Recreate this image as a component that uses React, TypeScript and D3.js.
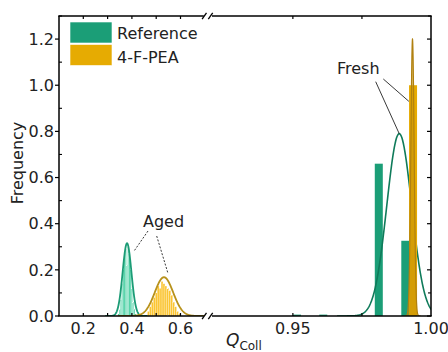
import React from "react";
import * as d3 from "d3";

// ---- data ----
const seriesNames = ["Reference", "4-F-PEA"];
const seriesColors = ["#1b9e77", "#e6ab02"];

// aged histograms (bin centers, frequencies)
const agedRefBins = [0.345, 0.35, 0.355, 0.36, 0.365, 0.37, 0.375, 0.38, 0.385, 0.39, 0.395, 0.4, 0.405, 0.41, 0.415];
const agedRefFreq = [0.01, 0.03, 0.07, 0.14, 0.2, 0.26, 0.29, 0.22, 0.3, 0.27, 0.2, 0.12, 0.06, 0.03, 0.01];
const agedRefBinWidth = 0.005;

const agedPeaBins = [0.468, 0.476, 0.484, 0.492, 0.5, 0.508, 0.516, 0.524, 0.532, 0.54, 0.548, 0.556, 0.564, 0.572, 0.58, 0.588, 0.596];
const agedPeaFreq = [0.02, 0.04, 0.06, 0.08, 0.1, 0.13, 0.12, 0.15, 0.14, 0.13, 0.12, 0.11, 0.09, 0.06, 0.04, 0.02, 0.01];
const agedPeaBinWidth = 0.008;

// fresh histograms
const freshRefBins = [0.9515, 0.961, 0.971, 0.9811, 0.9907];
const freshRefFreq = [0.006, 0.006, 0.004, 0.66, 0.326];
const freshPeaBins = [0.9935];
const freshPeaFreq = [1.0];
const freshBinWidth = 0.0029;

// gaussian fits: [center, sigma, amplitude]
const fitAgedRef = [0.38, 0.018, 0.315];
const fitAgedPea = [0.532, 0.038, 0.168];
const fitFreshRef = [0.9885, 0.0045, 0.79];
const fitFreshPea = [0.9933, 0.0006, 1.2];

// axis ticks
const yTicks = [0, 0.2, 0.4, 0.6, 0.8, 1.0, 1.2];
const yMinor = [0.1, 0.3, 0.5, 0.7, 0.9, 1.1, 1.3];
const xLeftLabels = [0.2, 0.4, 0.6];
const xLeftTicks = [0.2, 0.3, 0.4, 0.5, 0.6];
const xRightLabels = [0.95, 1.0];
const xRightTicks = [0.95, 0.975];

// annotations targets (data coords)
const freshTargets = [[0.9885, 0.79], [0.992, 0.93]];
const agedTargets = [[0.408, 0.28], [0.549, 0.183]];

const W = 448, H = 352;
const L = 59, R = 431, T = 16, B = 316;
const breakL = 204.8, breakR = 210;

const font = "DejaVu Sans, Liberation Sans, sans-serif";

export default function App() {
  const y = d3.scaleLinear().domain([0, 1.3]).range([B, T]);
  const xL = d3.scaleLinear().domain([0.1, 0.7]).range([L, breakL]);
  const xR = d3.scaleLinear().domain([0.92, 1.0]).range([breakR, R]);

  const gauss = (p: number[], x: number) => p[2] * Math.exp(-((x - p[0]) ** 2) / (2 * p[1] * p[1]));
  const curve = (p: number[], xs: d3.ScaleLinear<number, number>, n = 300) => {
    const lo = p[0] - 5 * p[1], hi = p[0] + 5 * p[1];
    const pts: [number, number][] = d3.range(n + 1).map((i) => {
      const v = lo + ((hi - lo) * i) / n;
      return [v, gauss(p, v)];
    });
    return d3.line<[number, number]>().x((d) => xs(d[0])).y((d) => y(d[1])).curve(d3.curveLinear)(pts) || "";
  };

  const bars = (bins: number[], freq: number[], w: number, xs: d3.ScaleLinear<number, number>, fill: string, stroke: string | null, key: string) =>
    bins.map((c, i) => (
      <rect key={key + i} x={xs(c - w / 2)} width={xs(c + w / 2) - xs(c - w / 2)} y={y(freq[i])} height={y(0) - y(freq[i])}
        fill={fill} stroke={stroke || "none"} strokeWidth={stroke ? 0.25 : 0} />
    ));

  const slash = (cx: number, cy: number, k: string) => (
    <line key={k} x1={cx - 2.2} y1={cy + 3.2} x2={cx + 2.2} y2={cy - 3.2} stroke="#000" strokeWidth={1.3} />
  );

  return (
    <svg width={W} height={H} style={{ position: "absolute", left: 0, top: 0, background: "#fff" }} fontFamily={font}>
      <defs>
        <clipPath id="clipL"><rect x={L} y={0} width={breakL - L} height={B} /></clipPath>
        <clipPath id="clipR"><rect x={breakR} y={0} width={R - breakR} height={B} /></clipPath>
      </defs>

      {/* left segment */}
      <g clipPath="url(#clipL)">
        {bars(agedRefBins, agedRefFreq, agedRefBinWidth, xL, "#45cfa1", "#fff", "ar")}
        <path d={curve(fitAgedRef, xL)} fill="none" stroke="#1c9c76" strokeWidth={1.8} />
        {bars(agedPeaBins, agedPeaFreq, agedPeaBinWidth, xL, "#fbc532", "#fff", "ap")}
        <path d={curve(fitAgedPea, xL)} fill="none" stroke="#b8921c" strokeWidth={1.8} />
      </g>

      {/* right segment */}
      <g clipPath="url(#clipR)">
        {bars(freshRefBins, freshRefFreq, freshBinWidth, xR, seriesColors[0], null, "fr")}
        <path d={curve(fitFreshRef, xR)} fill="none" stroke="#0f7b5a" strokeWidth={1.6} />
        {bars(freshPeaBins, freshPeaFreq, freshBinWidth, xR, seriesColors[1], null, "fp")}
        <path d={curve(fitFreshPea, xR, 600)} fill="#c8940a" fillOpacity={0.6} stroke="#b08010" strokeWidth={1.2} />
      </g>

      {/* frame */}
      <line x1={L} y1={T} x2={L} y2={B} stroke="#000" strokeWidth={1.5} />
      <line x1={R} y1={T} x2={R} y2={B} stroke="#000" strokeWidth={1.5} />
      <line x1={L - 0.75} y1={B} x2={breakL - 1} y2={B} stroke="#000" strokeWidth={1.5} />
      <line x1={breakR + 2} y1={B} x2={R + 0.75} y2={B} stroke="#000" strokeWidth={1.5} />
      <line x1={L - 0.75} y1={T} x2={breakL - 1} y2={T} stroke="#000" strokeWidth={1.5} />
      <line x1={breakR + 2} y1={T} x2={R + 0.75} y2={T} stroke="#000" strokeWidth={1.5} />
      {slash(breakL - 0.5, B, "s1")}
      {slash(breakR + 0.5, B, "s2")}
      {slash(breakL - 0.5, T, "s3")}
      {slash(breakR + 0.5, T, "s4")}

      {/* y ticks */}
      {yTicks.map((t) => (
        <g key={"yt" + t}>
          <line x1={L - 4} x2={L} y1={y(t)} y2={y(t)} stroke="#000" strokeWidth={1.2} />
          <line x1={R - 4} x2={R} y1={y(t)} y2={y(t)} stroke="#000" strokeWidth={1.2} />
          <text x={L - 5} y={y(t)} dy="0.36em" textAnchor="end" fontSize={16} fill="#222">{t.toFixed(1)}</text>
        </g>
      ))}
      {yMinor.map((t) => (
        <g key={"ym" + t}>
          <line x1={L} x2={L + 3} y1={y(t)} y2={y(t)} stroke="#000" strokeWidth={1.1} />
          <line x1={R - 3} x2={R} y1={y(t)} y2={y(t)} stroke="#000" strokeWidth={1.1} />
        </g>
      ))}

      {/* x ticks */}
      {xLeftTicks.map((t) => (
        <g key={"xl" + t}>
          <line x1={xL(t)} x2={xL(t)} y1={B} y2={B - 3} stroke="#000" strokeWidth={1.2} />
          <line x1={xL(t)} x2={xL(t)} y1={T} y2={T + 3} stroke="#000" strokeWidth={1.2} />
        </g>
      ))}
      {xRightTicks.map((t) => (
        <g key={"xr" + t}>
          <line x1={xR(t)} x2={xR(t)} y1={B} y2={B - 3} stroke="#000" strokeWidth={1.2} />
          <line x1={xR(t)} x2={xR(t)} y1={T} y2={T + 3} stroke="#000" strokeWidth={1.2} />
        </g>
      ))}
      {xLeftLabels.map((t) => (
        <text key={"xll" + t} x={xL(t)} y={334} textAnchor="middle" fontSize={16} fill="#222">{t.toFixed(1)}</text>
      ))}
      {xRightLabels.map((t) => (
        <text key={"xrl" + t} x={xR(t)} y={334} textAnchor="middle" fontSize={16} fill="#222">{t.toFixed(2)}</text>
      ))}

      {/* axis titles */}
      <text transform={`translate(23,${(T + B) / 2 - 3}) rotate(-90)`} textAnchor="middle" fontSize={16} fill="#222">Frequency</text>
      <text x={226} y={346} fontSize={17} fill="#222">
        <tspan fontStyle="italic">Q</tspan>
        <tspan fontSize={12} dy={4}>Coll</tspan>
      </text>

      {/* legend */}
      {seriesNames.map((n, i) => (
        <g key={"lg" + i}>
          <rect x={70} y={22 + i * 22.5} width={42} height={21} fill={seriesColors[i]} stroke="#fff" strokeWidth={0.6} />
          <text x={117} y={39 + i * 23.5} fontSize={16} fill="#222">{n}</text>
        </g>
      ))}

      {/* annotations */}
      <text x={337} y={74} fontSize={16} fill="#222">Fresh</text>
      <line x1={375.7} y1={81.7} x2={xR(freshTargets[0][0])} y2={y(freshTargets[0][1])} stroke="#222" strokeWidth={0.9} />
      <line x1={383.3} y1={79} x2={xR(freshTargets[1][0])} y2={y(freshTargets[1][1])} stroke="#222" strokeWidth={0.9} />

      <text x={143} y={227} fontSize={16} fill="#222">Aged</text>
      <line x1={148} y1={231} x2={xL(agedTargets[0][0])} y2={y(agedTargets[0][1])} stroke="#222" strokeWidth={0.9} strokeDasharray="2,1.6" />
      <line x1={156.7} y1={236} x2={xL(agedTargets[1][0])} y2={y(agedTargets[1][1])} stroke="#222" strokeWidth={0.9} strokeDasharray="2,1.6" />
    </svg>
  );
}
